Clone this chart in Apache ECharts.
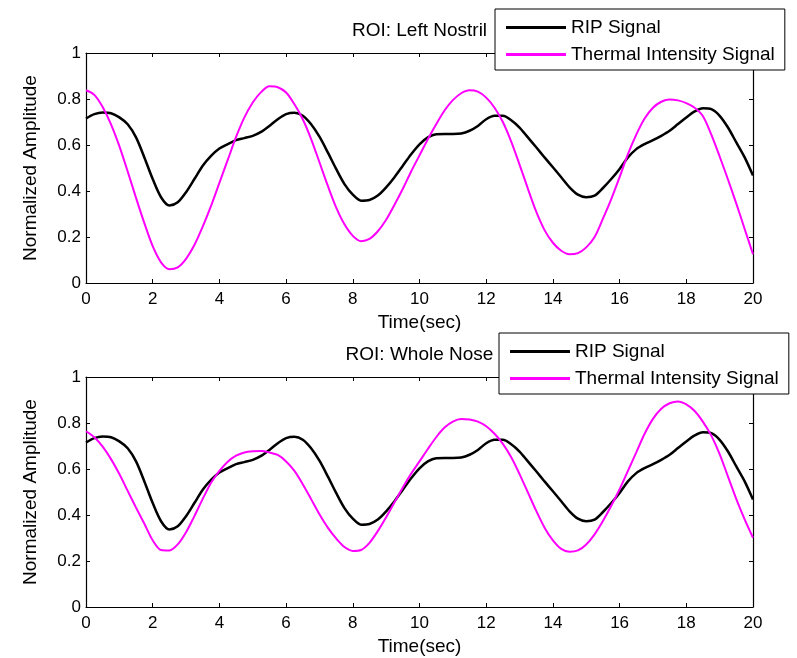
<!DOCTYPE html>
<html>
<head>
<meta charset="utf-8">
<title>RIP vs Thermal Intensity</title>
<script src="https://cdn.jsdelivr.net/npm/echarts@6/dist/echarts.min.js"></script>
<style>
  html, body { margin: 0; padding: 0; background: #fff; }
  #chart { width: 797px; height: 658px; }
</style>
</head>
<body>
<div id="chart"></div>
<script>
// time axis (sec), one sample every 0.25 s
var time = [
  0, 0.25, 0.5, 0.75, 1, 1.25, 1.5, 1.75, 2, 2.25, 2.5,
  2.75, 3, 3.25, 3.5, 3.75, 4, 4.25, 4.5, 4.75, 5,
  5.25, 5.5, 5.75, 6, 6.25, 6.5, 6.75, 7, 7.25, 7.5,
  7.75, 8, 8.25, 8.5, 8.75, 9, 9.25, 9.5, 9.75, 10,
  10.25, 10.5, 10.75, 11, 11.25, 11.5, 11.75, 12, 12.25, 12.5,
  12.75, 13, 13.25, 13.5, 13.75, 14, 14.25, 14.5, 14.75, 15,
  15.25, 15.5, 15.75, 16, 16.25, 16.5, 16.75, 17, 17.25, 17.5,
  17.75, 18, 18.25, 18.5, 18.75, 19, 19.25, 19.5, 19.75, 20
];

// RIP signal (same in both panels)
var ripSignal = [
  0.715, 0.734, 0.741, 0.738, 0.72, 0.69, 0.633, 0.546, 0.452, 0.373, 0.337,
  0.351, 0.395, 0.452, 0.51, 0.553, 0.585, 0.604, 0.621, 0.63, 0.64,
  0.657, 0.683, 0.712, 0.734, 0.74, 0.727, 0.69, 0.636, 0.568, 0.496,
  0.43, 0.384, 0.358, 0.361, 0.38, 0.416, 0.46, 0.51, 0.56, 0.603,
  0.633, 0.647, 0.648, 0.648, 0.65, 0.662, 0.683, 0.712, 0.727, 0.727,
  0.708, 0.676, 0.633, 0.59, 0.546, 0.503, 0.46, 0.416, 0.384, 0.373,
  0.38, 0.413, 0.452, 0.496, 0.546, 0.582, 0.604, 0.621, 0.64, 0.662,
  0.691, 0.72, 0.746, 0.76, 0.756, 0.727, 0.676, 0.611, 0.546, 0.467
];

// thermal intensity, ROI: left nostril
var thermalLeftNostril = [
  0.838, 0.818, 0.765, 0.69, 0.595, 0.485, 0.37, 0.26, 0.16, 0.09, 0.06,
  0.068, 0.105, 0.165, 0.245, 0.335, 0.435, 0.535, 0.635, 0.72, 0.785,
  0.83, 0.855, 0.851, 0.828, 0.777, 0.712, 0.626, 0.525, 0.423, 0.329,
  0.255, 0.205, 0.182, 0.192, 0.225, 0.275, 0.34, 0.41, 0.485, 0.555,
  0.625, 0.69, 0.75, 0.795, 0.825, 0.838, 0.832, 0.806, 0.762, 0.7,
  0.615, 0.515, 0.41, 0.31, 0.23, 0.175, 0.14, 0.125, 0.13, 0.155,
  0.2, 0.28, 0.365, 0.46, 0.56, 0.645, 0.715, 0.762, 0.788, 0.798,
  0.794, 0.782, 0.762, 0.725, 0.645, 0.55, 0.45, 0.345, 0.235, 0.125
];

// thermal intensity, ROI: whole nose
var thermalWholeNose = [
  0.764, 0.738, 0.697, 0.643, 0.578, 0.505, 0.432, 0.362, 0.29, 0.248, 0.246,
  0.272, 0.325, 0.395, 0.47, 0.54, 0.592, 0.632, 0.658, 0.672, 0.677,
  0.678, 0.672, 0.661, 0.633, 0.592, 0.534, 0.469, 0.403, 0.345, 0.298,
  0.261, 0.244, 0.248, 0.279, 0.33, 0.39, 0.455, 0.52, 0.58, 0.633,
  0.687, 0.738, 0.78, 0.806, 0.817, 0.815, 0.806, 0.786, 0.753, 0.709,
  0.651, 0.578, 0.498, 0.418, 0.345, 0.29, 0.253, 0.24, 0.246, 0.272,
  0.316, 0.374, 0.44, 0.512, 0.592, 0.672, 0.753, 0.818, 0.862, 0.886,
  0.894, 0.881, 0.852, 0.805, 0.745, 0.665, 0.567, 0.469, 0.381, 0.301
];

var panelTitles = ['ROI: Left Nostril', 'ROI: Whole Nose'];
var seriesNames = ['RIP Signal', 'Thermal Intensity Signal'];

var font = 'Liberation Sans, Arial, Helvetica, sans-serif';
var black = '#000';
var magenta = '#ff00ff';

function pairs(values) {
  return time.map(function (t, i) { return [t, values[i]]; });
}

var tick = { show: true, inside: true, length: 4, lineStyle: { color: black } };
// onZero off, otherwise the top / right edges get pulled onto the zero line
var axisLine = { show: true, onZero: false, lineStyle: { color: black, width: 1.2 } };

var grids = [], xAxes = [], yAxes = [], series = [], legends = [];
var panelTops = [53, 377];
var legendPos = [[495, 9], [499, 333]];
var thermals = [thermalLeftNostril, thermalWholeNose];

panelTops.forEach(function (top, g) {
  grids.push({ left: 86, top: top, width: 667, height: 230, show: false });

  // bottom x axis with labels
  xAxes.push({
    gridIndex: g, type: 'value', min: 0, max: 20, interval: 2,
    axisLine: axisLine, axisTick: tick, splitLine: { show: false },
    axisLabel: { color: black, fontSize: 17, fontFamily: font, margin: 8 },
    name: 'Time(sec)', nameLocation: 'middle', nameGap: 30,
    nameTextStyle: { color: black, fontSize: 19, fontFamily: font }
  });
  // top x axis: box edge + panel title
  xAxes.push({
    gridIndex: g, type: 'value', position: 'top', min: 0, max: 20, interval: 2,
    axisLine: axisLine, axisTick: tick, splitLine: { show: false },
    axisLabel: { show: false },
    name: panelTitles[g], nameLocation: 'middle', nameGap: 13,
    nameTextStyle: { color: black, fontSize: 19, fontFamily: font }
  });
  // left y axis
  yAxes.push({
    gridIndex: g, type: 'value', min: 0, max: 1, interval: 0.2,
    axisLine: axisLine, axisTick: tick, splitLine: { show: false },
    axisLabel: { color: black, fontSize: 17, fontFamily: font, margin: 5 },
    name: 'Normalized Amplitude', nameLocation: 'middle', nameGap: 46,
    nameTextStyle: { color: black, fontSize: 19, fontFamily: font }
  });
  // right y axis: box edge
  yAxes.push({
    gridIndex: g, type: 'value', position: 'right', min: 0, max: 1, interval: 0.2,
    axisLine: axisLine, axisTick: tick, splitLine: { show: false },
    axisLabel: { show: false }
  });

  series.push({
    name: seriesNames[0], type: 'line', xAxisIndex: g * 2, yAxisIndex: g * 2,
    data: pairs(ripSignal), smooth: 0.3, showSymbol: false, symbol: 'none',
    lineStyle: { color: black, width: 2.5 }, itemStyle: { color: black }
  });
  series.push({
    name: seriesNames[1], type: 'line', xAxisIndex: g * 2, yAxisIndex: g * 2,
    data: pairs(thermals[g]), smooth: 0.3, showSymbol: false, symbol: 'none',
    lineStyle: { color: magenta, width: 2 }, itemStyle: { color: magenta }
  });

  legends.push({
    data: seriesNames, orient: 'vertical',
    left: legendPos[g][0], top: legendPos[g][1],
    backgroundColor: '#fff', borderColor: black, borderWidth: 1,
    padding: [9, 10, 6, 11], itemGap: 8,
    icon: 'rect', itemWidth: 60, itemHeight: 3,
    textStyle: { color: black, fontSize: 19, fontFamily: font }
  });
});

var chart = echarts.init(document.getElementById('chart'));
chart.setOption({
  animation: false,
  grid: grids,
  xAxis: xAxes,
  yAxis: yAxes,
  legend: legends,
  series: series
});
</script>
</body>
</html>
